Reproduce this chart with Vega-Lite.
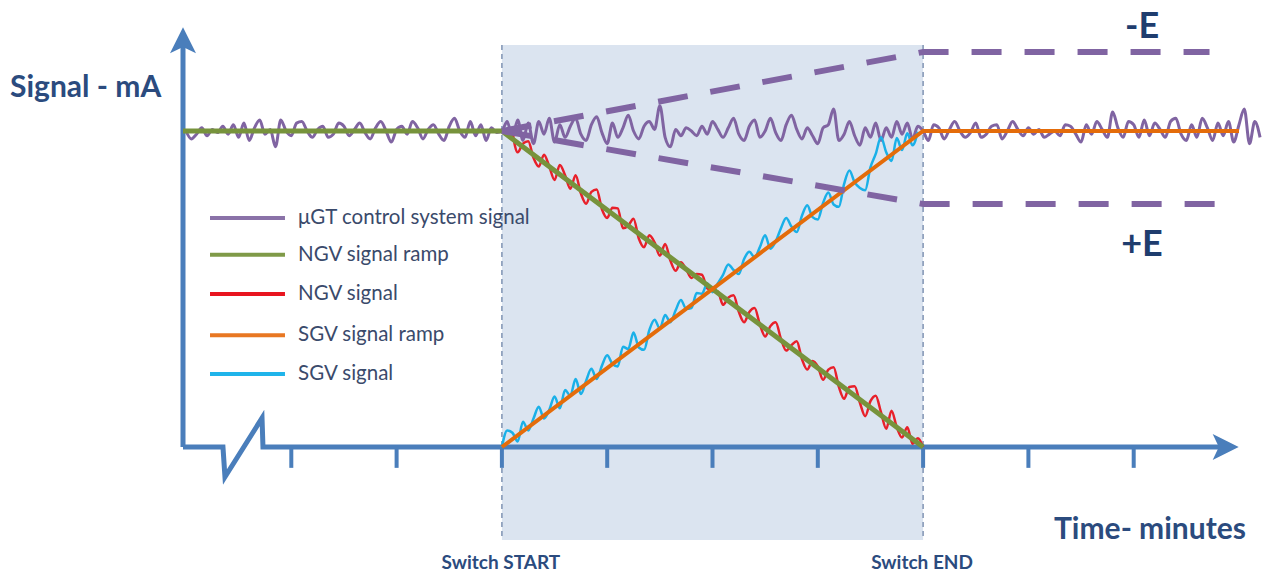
{
  "$schema": "https://vega.github.io/schema/vega-lite/v6.json",
  "width": 1266,
  "height": 573,
  "padding": 0,
  "autosize": {"type": "fit", "contains": "padding"},
  "background": "white",
  "config": {"view": {"stroke": null}},
  "datasets": {
    "shade": [{"x": 3, "x2": 7, "y": 127.2, "y2": -29.4}],
    "switch": [{"x": 3, "y": 127.2, "y2": -29.4}, {"x": 7, "y": 127.2, "y2": -29.4}],
    "ticks": [{"x": 1, "y": 0, "y2": -6.6}, {"x": 2, "y": 0, "y2": -6.6}, {"x": 3, "y": 0, "y2": -6.6}, {"x": 4, "y": 0, "y2": -6.6}, {"x": 5, "y": 0, "y2": -6.6}, {"x": 6, "y": 0, "y2": -6.6}, {"x": 7, "y": 0, "y2": -6.6}, {"x": 8, "y": 0, "y2": -6.6}, {"x": 9, "y": 0, "y2": -6.6}],
    "xaxis": [
      {"i": 0, "x": -0.0285, "y": 0},
      {"i": 1, "x": 0.351, "y": 0},
      {"i": 2, "x": 0.37, "y": -9.49},
      {"i": 3, "x": 0.722, "y": 9.18},
      {"i": 4, "x": 0.731, "y": 0},
      {"i": 5, "x": 9.867, "y": 0}
    ],
    "yaxis": [{"x": -0.0285, "y": 0}, {"x": -0.0285, "y": 127}],
    "arrowUp": [{"x": -0.0285, "y": 128.5}],
    "arrowRight": [{"x": 9.867, "y": 0}],
    "purple": [
      {"x":0.00,"y":100},{"x":0.05,"y":97.5},{"x":0.10,"y":99},{"x":0.15,"y":101},{"x":0.20,"y":98.5},{"x":0.25,"y":100.5},{"x":0.30,"y":99.5},{"x":0.35,"y":101.5},{"x":0.40,"y":99},{"x":0.45,"y":102},
      {"x":0.50,"y":98},{"x":0.55,"y":102.5},{"x":0.60,"y":97},{"x":0.65,"y":101},{"x":0.70,"y":103.5},{"x":0.75,"y":99},{"x":0.80,"y":100.5},{"x":0.85,"y":95},{"x":0.90,"y":103.5},{"x":0.95,"y":100},
      {"x":1.00,"y":98.5},{"x":1.05,"y":102.5},{"x":1.10,"y":103},{"x":1.15,"y":100},{"x":1.20,"y":98},{"x":1.25,"y":100.5},{"x":1.30,"y":101.5},{"x":1.35,"y":98},{"x":1.40,"y":99},{"x":1.45,"y":102.5},
      {"x":1.50,"y":101.5},{"x":1.55,"y":98.5},{"x":1.60,"y":100.5},{"x":1.65,"y":102.5},{"x":1.70,"y":99.5},{"x":1.75,"y":97.5},{"x":1.80,"y":101},{"x":1.85,"y":103},{"x":1.90,"y":100},{"x":1.95,"y":96.5},
      {"x":2.00,"y":100.5},{"x":2.05,"y":101.5},{"x":2.10,"y":99},{"x":2.15,"y":103},{"x":2.20,"y":101},{"x":2.25,"y":97.5},{"x":2.30,"y":100.5},{"x":2.35,"y":102},{"x":2.40,"y":99},{"x":2.45,"y":97},
      {"x":2.50,"y":101.5},{"x":2.55,"y":104},{"x":2.60,"y":100},{"x":2.65,"y":98},{"x":2.70,"y":103},{"x":2.75,"y":98.5},{"x":2.80,"y":102},{"x":2.85,"y":97},{"x":2.90,"y":101},{"x":2.95,"y":99.5},
      {"x":3.00,"y":100},{"x":3.05,"y":103},{"x":3.10,"y":98},{"x":3.15,"y":103.5},{"x":3.20,"y":97},{"x":3.25,"y":102.5},{"x":3.30,"y":96},{"x":3.35,"y":103},{"x":3.40,"y":99},{"x":3.45,"y":104},
      {"x":3.50,"y":96.5},{"x":3.55,"y":102},{"x":3.60,"y":98},{"x":3.65,"y":101.5},{"x":3.70,"y":104},{"x":3.75,"y":99},{"x":3.80,"y":97},{"x":3.85,"y":102},{"x":3.90,"y":104.5},{"x":3.95,"y":99.5},
      {"x":4.00,"y":96},{"x":4.05,"y":102.5},{"x":4.10,"y":98},{"x":4.15,"y":101},{"x":4.20,"y":105},{"x":4.25,"y":100},{"x":4.30,"y":97.5},{"x":4.35,"y":101.5},{"x":4.40,"y":103},{"x":4.45,"y":100.5},
      {"x":4.50,"y":108},{"x":4.55,"y":98},{"x":4.60,"y":95},{"x":4.65,"y":100.5},{"x":4.70,"y":98.5},{"x":4.75,"y":101},{"x":4.80,"y":100},{"x":4.85,"y":98.5},{"x":4.90,"y":101.5},{"x":4.95,"y":99},
      {"x":5.00,"y":103},{"x":5.05,"y":100.5},{"x":5.10,"y":98},{"x":5.15,"y":101},{"x":5.20,"y":104},{"x":5.25,"y":99},{"x":5.30,"y":97},{"x":5.35,"y":101.5},{"x":5.40,"y":103.5},{"x":5.45,"y":98},
      {"x":5.50,"y":100},{"x":5.55,"y":104},{"x":5.60,"y":99.5},{"x":5.65,"y":97},{"x":5.70,"y":102},{"x":5.75,"y":105},{"x":5.80,"y":100.5},{"x":5.85,"y":97.5},{"x":5.90,"y":101},{"x":5.95,"y":98.5},
      {"x":6.00,"y":96},{"x":6.05,"y":101},{"x":6.10,"y":102},{"x":6.15,"y":107},{"x":6.20,"y":97},{"x":6.25,"y":99},{"x":6.30,"y":103},{"x":6.35,"y":98.5},{"x":6.40,"y":95.5},{"x":6.45,"y":101},
      {"x":6.50,"y":98},{"x":6.55,"y":102.5},{"x":6.60,"y":97},{"x":6.65,"y":101},{"x":6.70,"y":98},{"x":6.75,"y":103},{"x":6.80,"y":99},{"x":6.85,"y":102.5},{"x":6.90,"y":97.5},{"x":6.95,"y":101.5},
      {"x":7.00,"y":100},{"x":7.05,"y":97},{"x":7.10,"y":102},{"x":7.15,"y":101},{"x":7.20,"y":97.5},{"x":7.25,"y":100.5},{"x":7.30,"y":103},{"x":7.35,"y":100},{"x":7.40,"y":98},{"x":7.45,"y":99.5},
      {"x":7.50,"y":102.5},{"x":7.55,"y":98},{"x":7.60,"y":99},{"x":7.65,"y":101.5},{"x":7.70,"y":102},{"x":7.75,"y":97.5},{"x":7.80,"y":100},{"x":7.85,"y":103},{"x":7.90,"y":100.5},{"x":7.95,"y":98.5},
      {"x":8.00,"y":101},{"x":8.05,"y":99},{"x":8.10,"y":100.5},{"x":8.15,"y":98},{"x":8.20,"y":99},{"x":8.25,"y":100},{"x":8.30,"y":98.5},{"x":8.35,"y":102},{"x":8.40,"y":101.5},{"x":8.45,"y":99},
      {"x":8.50,"y":96.5},{"x":8.55,"y":102},{"x":8.60,"y":99},{"x":8.65,"y":103},{"x":8.70,"y":100.5},{"x":8.75,"y":98},{"x":8.80,"y":106},{"x":8.85,"y":101},{"x":8.90,"y":98},{"x":8.95,"y":103},
      {"x":9.00,"y":102},{"x":9.05,"y":98},{"x":9.10,"y":103.5},{"x":9.15,"y":98.5},{"x":9.20,"y":102.5},{"x":9.25,"y":100.5},{"x":9.30,"y":98},{"x":9.35,"y":103},{"x":9.40,"y":104},{"x":9.45,"y":99},
      {"x":9.50,"y":97},{"x":9.55,"y":102},{"x":9.60,"y":98},{"x":9.65,"y":104},{"x":9.70,"y":101},{"x":9.75,"y":97},{"x":9.80,"y":102.5},{"x":9.85,"y":98.5},{"x":9.90,"y":103},{"x":9.95,"y":96.5},
      {"x":10.00,"y":102},{"x":10.05,"y":107},{"x":10.10,"y":96},{"x":10.15,"y":103},{"x":10.20,"y":98}
    ],
    "red": [
      {"x":3.10,"y":99.5},{"x":3.15,"y":93.25},{"x":3.20,"y":96},{"x":3.25,"y":96.75},{"x":3.30,"y":91.5},{"x":3.35,"y":88.75},{"x":3.40,"y":92.5},{"x":3.45,"y":88.75},{"x":3.50,"y":84.5},{"x":3.55,"y":89.25},
      {"x":3.60,"y":86},{"x":3.65,"y":81.75},{"x":3.70,"y":86},{"x":3.75,"y":80.25},{"x":3.80,"y":77},{"x":3.85,"y":80.75},{"x":3.90,"y":81.5},{"x":3.95,"y":75.25},{"x":4.00,"y":72.5},{"x":4.05,"y":75.75},
      {"x":4.10,"y":75.5},{"x":4.15,"y":69.25},{"x":4.20,"y":70},{"x":4.25,"y":72.25},{"x":4.30,"y":66},{"x":4.35,"y":63.25},{"x":4.40,"y":67},{"x":4.45,"y":64.75},{"x":4.50,"y":60.5},{"x":4.55,"y":64.25},
      {"x":4.60,"y":59},{"x":4.65,"y":55.75},{"x":4.70,"y":58.5},{"x":4.75,"y":56.25},{"x":4.80,"y":53.5},{"x":4.85,"y":54.75},{"x":4.90,"y":54.5},{"x":4.95,"y":50.25},{"x":5.00,"y":49.5},{"x":5.05,"y":49.25},
      {"x":5.10,"y":45},{"x":5.15,"y":47.25},{"x":5.20,"y":48},{"x":5.25,"y":42.75},{"x":5.30,"y":39.5},{"x":5.35,"y":42.75},{"x":5.40,"y":44},{"x":5.45,"y":38.75},{"x":5.50,"y":35},{"x":5.55,"y":38.25},
      {"x":5.60,"y":39.5},{"x":5.65,"y":34.25},{"x":5.70,"y":30.5},{"x":5.75,"y":32.25},{"x":5.80,"y":33.5},{"x":5.85,"y":27.75},{"x":5.90,"y":24.5},{"x":5.95,"y":27.25},{"x":6.00,"y":25.5},{"x":6.05,"y":21.25},
      {"x":6.10,"y":24.5},{"x":6.15,"y":25.25},{"x":6.20,"y":19},{"x":6.25,"y":15.25},{"x":6.30,"y":19},{"x":6.35,"y":19.25},{"x":6.40,"y":14},{"x":6.45,"y":9.75},{"x":6.50,"y":14.5},{"x":6.55,"y":16.25},
      {"x":6.60,"y":11},{"x":6.65,"y":5.75},{"x":6.70,"y":11.5},{"x":6.75,"y":6.25},{"x":6.80,"y":3},{"x":6.85,"y":6.25},{"x":6.90,"y":1},{"x":6.95,"y":2.75},{"x":7.00,"y":0}
    ],
    "cyan": [
      {"x":3.00,"y":0},{"x":3.05,"y":5.25},{"x":3.10,"y":4.5},{"x":3.15,"y":1.75},{"x":3.20,"y":8},{"x":3.25,"y":5.25},{"x":3.30,"y":9},{"x":3.35,"y":12.75},{"x":3.40,"y":9},{"x":3.45,"y":11.75},
      {"x":3.50,"y":16},{"x":3.55,"y":12.25},{"x":3.60,"y":18},{"x":3.65,"y":16.25},{"x":3.70,"y":21.5},{"x":3.75,"y":16.75},{"x":3.80,"y":21},{"x":3.85,"y":24.75},{"x":3.90,"y":21.5},{"x":3.95,"y":25.75},
      {"x":4.00,"y":29},{"x":4.05,"y":26.25},{"x":4.10,"y":25.5},{"x":4.15,"y":31.75},{"x":4.20,"y":31},{"x":4.25,"y":36.25},{"x":4.30,"y":31.5},{"x":4.35,"y":30.75},{"x":4.40,"y":37},{"x":4.45,"y":40.25},
      {"x":4.50,"y":37.5},{"x":4.55,"y":41.75},{"x":4.60,"y":39.5},{"x":4.65,"y":43.25},{"x":4.70,"y":46.5},{"x":4.75,"y":43.75},{"x":4.80,"y":44},{"x":4.85,"y":48.75},{"x":4.90,"y":48.5},{"x":4.95,"y":51.75},
      {"x":5.00,"y":49},{"x":5.05,"y":51.75},{"x":5.10,"y":54.5},{"x":5.15,"y":57.75},{"x":5.20,"y":56},{"x":5.25,"y":54.75},{"x":5.30,"y":59.5},{"x":5.35,"y":61.75},{"x":5.40,"y":60},{"x":5.45,"y":63.25},
      {"x":5.50,"y":67},{"x":5.55,"y":62.75},{"x":5.60,"y":65},{"x":5.65,"y":69.25},{"x":5.70,"y":72.5},{"x":5.75,"y":69.75},{"x":5.80,"y":68},{"x":5.85,"y":73.25},{"x":5.90,"y":76.5},{"x":5.95,"y":72.75},
      {"x":6.00,"y":72},{"x":6.05,"y":77.25},{"x":6.10,"y":80.5},{"x":6.15,"y":76.75},{"x":6.20,"y":76},{"x":6.25,"y":83.25},{"x":6.30,"y":87.5},{"x":6.35,"y":83.75},{"x":6.40,"y":82},{"x":6.45,"y":81.25},
      {"x":6.50,"y":88.5},{"x":6.55,"y":92.75},{"x":6.60,"y":98},{"x":6.65,"y":93.25},{"x":6.70,"y":90.5},{"x":6.75,"y":97.75},{"x":6.80,"y":94},{"x":6.85,"y":99.25},{"x":6.90,"y":95.5},{"x":6.95,"y":99.75}
    ],
    "green": [{"x": -0.0285, "y": 100}, {"x": 3, "y": 100}, {"x": 7, "y": 0}],
    "orange": [{"x": 3, "y": 0}, {"x": 7, "y": 100}, {"x": 10.0, "y": 100}],
    "dashU": [{"x": 3, "y": 100}, {"x": 7, "y": 125}, {"x": 9.72, "y": 125}],
    "dashL": [{"x": 3, "y": 100}, {"x": 7, "y": 76.9}, {"x": 9.77, "y": 76.9}],
    "legend": [
      {"series": "μGT control system signal", "x": 0.228, "x2": 0.94, "tx": 1.064, "y": 72.5},
      {"series": "NGV signal ramp", "x": 0.228, "x2": 0.94, "tx": 1.064, "y": 60.8},
      {"series": "NGV signal", "x": 0.228, "x2": 0.94, "tx": 1.064, "y": 48.4},
      {"series": "SGV signal ramp", "x": 0.228, "x2": 0.94, "tx": 1.064, "y": 35.4},
      {"series": "SGV signal", "x": 0.228, "x2": 0.94, "tx": 1.064, "y": 23.1}
    ],
    "titleLeft": [{"label": "Signal - mA", "x": -1.671, "y": 113.6}],
    "titleRight": [{"label": "Time- minutes", "x": 10.066, "y": -26.3}],
    "eLabels": [
      {"label": "-E", "x": 9.079, "y": 132.9},
      {"label": "+E", "x": 9.079, "y": 63.9}
    ],
    "switchLabels": [
      {"label": "Switch START", "x": 2.99, "y": -36.7},
      {"label": "Switch END", "x": 6.99, "y": -36.7}
    ]
  },
  "encoding": {
    "x": {"field": "x", "type": "quantitative", "axis": null, "scale": {"domain": [-1.7664, 10.2564], "nice": false, "zero": false}},
    "y": {"field": "y", "type": "quantitative", "axis": null, "scale": {"domain": [-39.873, 141.456], "nice": false, "zero": false}}
  },
  "layer": [
    {
      "data": {"name": "shade"},
      "mark": {"type": "rect", "color": "#dbe4f0"},
      "encoding": {"x2": {"field": "x2"}, "y2": {"field": "y2"}}
    },
    {
      "data": {"name": "switch"},
      "mark": {"type": "rule", "color": "#7f93b3", "strokeWidth": 1.5, "strokeDash": [5, 4]},
      "encoding": {"y2": {"field": "y2"}}
    },
    {
      "data": {"name": "ticks"},
      "mark": {"type": "rule", "color": "#4a7ebb", "strokeWidth": 4},
      "encoding": {"y2": {"field": "y2"}}
    },
    {
      "data": {"name": "xaxis"},
      "mark": {"type": "line", "color": "#4a7ebb", "strokeWidth": 5, "strokeJoin": "miter"},
      "encoding": {"order": {"field": "i"}}
    },
    {
      "data": {"name": "yaxis"},
      "mark": {"type": "line", "color": "#4a7ebb", "strokeWidth": 5},
      "encoding": {}
    },
    {
      "data": {"name": "arrowUp"},
      "mark": {"type": "point", "filled": true, "opacity": 1, "color": "#4a7ebb", "size": 750, "shape": "M0,-1L0.95,0.9L0,0.45L-0.95,0.9Z"}
    },
    {
      "data": {"name": "arrowRight"},
      "mark": {"type": "point", "filled": true, "opacity": 1, "color": "#4a7ebb", "size": 750, "angle": 90, "shape": "M0,-1L0.95,0.9L0,0.45L-0.95,0.9Z"}
    },
    {
      "data": {"name": "purple"},
      "mark": {"type": "line", "color": "#8064a2", "strokeWidth": 3, "strokeJoin": "round", "interpolate": "monotone"}
    },
    {
      "data": {"name": "red"},
      "mark": {"type": "line", "color": "#e8202a", "strokeWidth": 2.5, "strokeJoin": "round", "interpolate": "monotone"}
    },
    {
      "data": {"name": "cyan"},
      "mark": {"type": "line", "color": "#1ab0e8", "strokeWidth": 2.5, "strokeJoin": "round", "interpolate": "monotone"}
    },
    {
      "data": {"name": "green"},
      "mark": {"type": "line", "color": "#77933c", "strokeWidth": 5}
    },
    {
      "data": {"name": "orange"},
      "mark": {"type": "line", "color": "#e46c0a", "strokeWidth": 4}
    },
    {
      "data": {"name": "dashU"},
      "mark": {"type": "line", "color": "#8064a2", "strokeWidth": 6, "strokeDash": [30, 23]}
    },
    {
      "data": {"name": "dashL"},
      "mark": {"type": "line", "color": "#8064a2", "strokeWidth": 6, "strokeDash": [30, 23]}
    },
    {
      "data": {"name": "legend"},
      "mark": {"type": "rule", "strokeWidth": 4},
      "encoding": {
        "x2": {"field": "x2"},
        "color": {"field": "series", "type": "nominal", "legend": null, "scale": {"domain": ["μGT control system signal", "NGV signal ramp", "NGV signal", "SGV signal ramp", "SGV signal"], "range": ["#8a72a8", "#7f9a48", "#e8151f", "#e87722", "#1fb4ea"]}}
      }
    },
    {
      "data": {"name": "legend"},
      "mark": {"type": "text", "align": "left", "baseline": "middle", "font": "Lato", "fontSize": 20.5, "color": "#3a4a6b"},
      "encoding": {"x": {"field": "tx", "type": "quantitative"}, "text": {"field": "series"}}
    },
    {
      "data": {"name": "titleLeft"},
      "mark": {"type": "text", "align": "left", "baseline": "middle", "font": "Lato", "fontSize": 30, "fontWeight": "bold", "color": "#2b4b7e"},
      "encoding": {"text": {"field": "label"}}
    },
    {
      "data": {"name": "titleRight"},
      "mark": {"type": "text", "align": "right", "baseline": "middle", "font": "Lato", "fontSize": 30, "fontWeight": "bold", "color": "#2b4b7e"},
      "encoding": {"text": {"field": "label"}}
    },
    {
      "data": {"name": "eLabels"},
      "mark": {"type": "text", "align": "center", "baseline": "middle", "font": "Lato", "fontSize": 36, "fontWeight": "bold", "color": "#1f3d6e"},
      "encoding": {"text": {"field": "label"}}
    },
    {
      "data": {"name": "switchLabels"},
      "mark": {"type": "text", "align": "center", "baseline": "middle", "font": "Lato", "fontSize": 19, "fontWeight": "bold", "color": "#2b4b7e"},
      "encoding": {"text": {"field": "label"}}
    }
  ]
}
